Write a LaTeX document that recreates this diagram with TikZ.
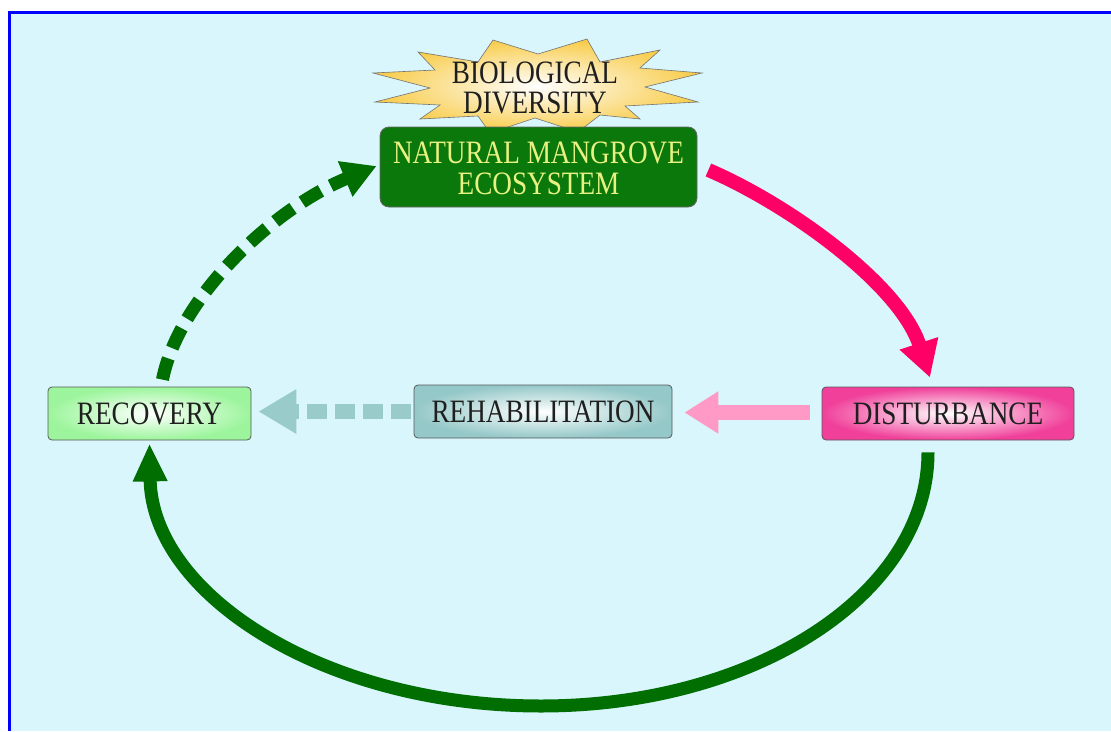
\documentclass[tikz,border=0pt]{standalone}
\usepackage{fontspec}
\usepackage{graphicx}
\setmainfont{Liberation Serif}
\usetikzlibrary{arrows.meta,calc}
\definecolor{bgc}{HTML}{D9F6FD}
\definecolor{bord}{HTML}{0000FF}
\definecolor{dgreen}{HTML}{006E00}
\definecolor{boxgreen}{HTML}{0B780B}
\definecolor{txtyel}{HTML}{E8F282}
\definecolor{pinkA}{HTML}{FF0066}
\definecolor{pinkL}{HTML}{FF99C6}
\definecolor{teal}{HTML}{99CBCB}
\definecolor{recG}{HTML}{9CF59C}
\definecolor{rehT}{HTML}{95C8C8}
\definecolor{disP}{HTML}{F0409A}
\definecolor{starY}{HTML}{F8CC4A}
\newcommand\lbl{\fontsize{27.2}{23.6}\selectfont}
\newcommand\tall[1]{\scalebox{1}[1.2]{#1}}
\newcommand\twolines[3]{\tall{\fontsize{27.2}{#3}\selectfont\begin{tabular}{@{}c@{}}#1\\#2\end{tabular}}}
\begin{document}
\begin{tikzpicture}[x=1pt,y=-1pt,
  box/.style={draw=black!65,line width=0.8pt,rounded corners=4pt,minimum height=53pt,
    inner sep=0pt,font=\lbl,text=black!88,inner color=white},
  thickarrow/.style={line width=14pt,line cap=butt},
  tipA/.style={-{Triangle[length=36pt,width=38pt]}}]
\useasboundingbox (0,0) rectangle (1111,731);
\fill[white] (0,0) rectangle (1111,731);
\fill[bgc] (9,12) rectangle (1111,731);
\draw[bord,line width=3pt] (9.5,731) -- (9.5,12.5) -- (1111,12.5);

% star
\shadedraw[draw=black!55,line width=0.6pt,inner color=white,outer color=starY]
 (493,40) -- (538,54) -- (587,39) -- (600,62) -- (660,50) -- (640,68) -- (702,73)
 -- (645,87) -- (698,102) -- (625,106) -- (640,119) -- (600,115) -- (578,132)
 -- (535,118) -- (490,133) -- (478,116) -- (420,119) -- (440,105) -- (375,102)
 -- (430,88) -- (373,73) -- (435,70) -- (418,52) -- (478,62) -- cycle;
\node[inner sep=0pt,text=black!88] (bio) at (535,92) {\twolines{BIOLOGICAL}{DIVERSITY}{23.6}};

% nodes
\node[draw=black!60,line width=0.8pt,fill=boxgreen,rounded corners=9pt,minimum width=317pt,
  minimum height=80pt,inner sep=0pt] (nat) at (538.5,167) {};
\node[inner sep=0pt,text=txtyel] (natText) at ($(nat.center)+(0,6)$)
  {\twolines{NATURAL MANGROVE}{ECOSYSTEM}{25.4}};
\node[box,minimum width=203pt,outer color=recG] (rec) at (149.5,413.5) {\tall{RECOVERY}};
\node[box,minimum width=258pt,outer color=rehT] (reh) at (543,411.5) {\tall{REHABILITATION}};
\node[box,minimum width=252pt,outer color=disP] (dis) at (948,413.5) {\tall{DISTURBANCE}};

% connectors
\draw[thickarrow,draw=pinkA,tipA] ($(nat.east)+(11,3)$)
  .. controls (790,205) and (900,285) .. ($(dis.north)+(-18,-9)$);
\draw[thickarrow,draw=pinkL,line width=15pt,-{Triangle[length=34pt,width=40pt]}]
  ($(dis.west)+(-12,-1)$) -- ($(reh.east)+(12,1)$);
\draw[thickarrow,draw=teal,line width=15pt,dash pattern=on 20pt off 8pt,
  -{Triangle[length=38pt,width=42pt]}] ($(reh.west)+(-3,0)$) -- ($(rec.east)+(7,-2)$);
\draw[thickarrow,draw=dgreen,line width=13pt,dash pattern=on 22pt off 11pt,
  -{Triangle[length=34pt,width=36pt]}] ($(rec.north)+(13,-7)$)
  .. controls (178,300) and (270,210) .. ($(nat.west)+(-3,-1)$);
\draw[thickarrow,draw=dgreen,line width=13pt,-{Triangle[length=38pt,width=32pt]}]
  ($(dis.south)+(-20,12)$) .. controls (928,595) and (754,706) .. (541,706)
  .. controls (325,706) and (152,595) .. ($(rec.south)+(0,3)$);
\end{tikzpicture}
\end{document}
